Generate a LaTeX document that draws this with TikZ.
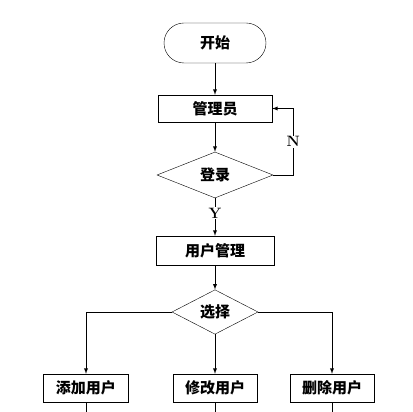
\documentclass[tikz,border=0pt]{standalone}
\usepackage{fontspec}
\newfontfamily\cjk{Noto Sans CJK SC}
\usetikzlibrary{shapes.geometric}

\tikzstyle{startstop} = [rectangle, draw, text centered, minimum width=102pt, minimum height=40pt, rounded corners=20pt, font=\cjk\bfseries\fontsize{15}{18}\selectfont]
\tikzstyle{block} = [rectangle, draw, text centered, minimum height=28pt, inner sep=0pt, font=\cjk\bfseries\fontsize{15}{18}\selectfont]
\tikzstyle{decision} = [diamond, draw, text centered, inner sep=0pt, font=\cjk\bfseries\fontsize{15}{18}\selectfont]
\tikzstyle{answer} = [fill=white, inner sep=1pt, font=\rmfamily\bfseries\fontsize{15}{17}\selectfont]
\tikzstyle{arrow} = [draw, -latex, line width=0.9pt]
\tikzstyle{line} = [draw, line width=0.9pt]

\begin{document}
\begin{tikzpicture}[node distance=1cm, auto]
    \useasboundingbox (0,0) rectangle (413pt,412pt);
    \node[startstop] (start) at (215pt,369pt) {开始};
    \node[block, below of=start, node distance=65.5pt, minimum width=114pt, minimum height=27pt] (admin) {管理员};
    \node[decision, below of=admin, node distance=66.5pt, minimum width=116pt, minimum height=46pt] (login) {登录};
    \node[block, below of=login, node distance=75.5pt, minimum width=118pt, minimum height=29pt] (manage) {用户管理};
    \node[decision, below of=manage, node distance=61.5pt, minimum width=86pt, minimum height=34pt] (choose) {选择};

    \node[block, below of=choose, node distance=76pt, minimum width=84pt] (modify) {修改用户};
    \node[block, below of=choose, node distance=76pt, xshift=-129pt, minimum width=85pt] (add) {添加用户};
    \node[block, below of=choose, node distance=76pt, xshift=117pt, minimum width=84pt] (delete) {删除用户};

    \coordinate[below of=add, node distance=26pt] (addEnd);
    \coordinate[below of=modify, node distance=26pt] (modifyEnd);
    \coordinate[below of=delete, node distance=26pt] (deleteEnd);

    % lines
    \draw [arrow] (start.south) to (admin.north);
    \draw [arrow] (admin.south) to (login.north);
    \draw [arrow] (login.east) -- ++(20pt,0) |- node[answer, pos=0.25, anchor=center] {N} (admin.east);
    \draw [arrow] (login.south) to node[answer, pos=0.4, anchor=center] {Y} (manage.north);
    \draw [arrow] (manage.south) to (choose.north);
    \draw [arrow] (choose.west) -| (add.north);
    \draw [arrow] (choose.south) to (modify.north);
    \draw [arrow] (choose.east) -| (delete.north);

    \draw [line] (add.south) to (addEnd);
    \draw [line] (modify.south) to (modifyEnd);
    \draw [line] (delete.south) to (deleteEnd);
\end{tikzpicture}
\end{document}
